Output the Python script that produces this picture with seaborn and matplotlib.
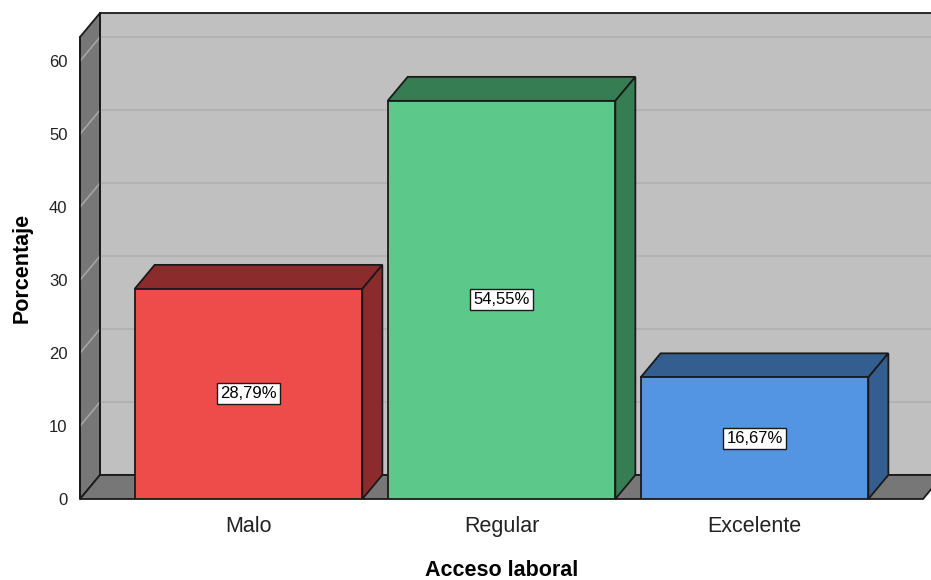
import matplotlib
matplotlib.use("Agg")
import matplotlib.pyplot as plt
from matplotlib.patches import Polygon
import seaborn as sns
import pandas as pd

# Data
categorias = ["Malo", "Regular", "Excelente"]
porcentajes = [28.79, 54.55, 16.67]
etiquetas = ["28,79%", "54,55%", "16,67%"]
yticks = [0, 10, 20, 30, 40, 50, 60]

# Colours (front face, shaded faces)
frente = ["#EE4B4B", "#5CC98B", "#5395E3"]
sombra = ["#8C2B2B", "#377D53", "#345D90"]

sns.set_theme(style="white")
plt.rcParams["font.family"] = ["Liberation Sans", "DejaVu Sans"]

W, H = 931, 580
fig = plt.figure(figsize=(W / 100, H / 100), dpi=100)
# front plane of the box, in pixels
px_l, px_r, px_top, px_bot = 80, 923, 37, 499
ax = fig.add_axes([px_l / W, (H - px_bot) / H, (px_r - px_l) / W, (px_bot - px_top) / H])

df = pd.DataFrame({"cat": categorias, "val": porcentajes})
sns.barplot(data=df, x="cat", y="val", hue="cat", palette=frente, width=0.9, saturation=1,
            edgecolor="#1A1A1A", linewidth=1.3, legend=False, ax=ax, zorder=2)

x0, x1 = -0.666, 2.666
ymax = 63.3
ax.set_xlim(x0, x1)
ax.set_ylim(0, ymax)

# depth offset in data units (~20 px right, ~24 px up)
dx = 20 / ((px_r - px_l) / (x1 - x0))
dy = 24 / ((px_bot - px_top) / ymax)

wall_back = "#C0C0C0"
wall_side = "#777777"
edge = "#1A1A1A"

# back wall
ax.add_patch(Polygon([(x0 + dx, dy), (x1 + dx, dy), (x1 + dx, ymax + dy), (x0 + dx, ymax + dy)],
                     closed=True, facecolor=wall_back, edgecolor=edge, lw=1.3, clip_on=False, zorder=0))
# left side wall
ax.add_patch(Polygon([(x0, 0), (x0, ymax), (x0 + dx, ymax + dy), (x0 + dx, dy)],
                     closed=True, facecolor=wall_side, edgecolor=edge, lw=1.3, clip_on=False, zorder=0.5))
# floor
ax.add_patch(Polygon([(x0, 0), (x1, 0), (x1 + dx, dy), (x0 + dx, dy)],
                     closed=True, facecolor=wall_side, edgecolor=edge, lw=1.3, clip_on=False, zorder=0.5))
# grid lines on the back wall and side wall
for v in yticks[1:]:
    ax.plot([x0 + dx, x1 + dx], [v + dy, v + dy], color="#B0B0B0", lw=1.2, clip_on=False, zorder=0.3)
    ax.plot([x0, x0 + dx], [v, v + dy], color="#A5A5A5", lw=1.2, clip_on=False, zorder=0.6)
# redraw the wall edges above the grid
ax.plot([x0 + dx, x0 + dx], [dy, ymax + dy], color=edge, lw=1.3, clip_on=False, zorder=0.7)
ax.plot([x0, x0], [0, ymax], color=edge, lw=1.3, clip_on=False, zorder=0.7)

bars = [p for p in ax.patches if p.get_zorder() == 2]
for i, p in enumerate(bars):
    x, w, h = p.get_x(), p.get_width(), p.get_height()
    top = Polygon([(x, h), (x + w, h), (x + w + dx, h + dy), (x + dx, h + dy)],
                  closed=True, facecolor=sombra[i], edgecolor=edge, lw=1.3, zorder=1.8, clip_on=False)
    side = Polygon([(x + w, 0), (x + w, h), (x + w + dx, h + dy), (x + w + dx, dy)],
                   closed=True, facecolor=sombra[i], edgecolor=edge, lw=1.3, zorder=1.8, clip_on=False)
    ax.add_patch(top)
    ax.add_patch(side)
    ax.text(x + w / 2, h / 2, etiquetas[i], ha="center", va="center", fontsize=12, color="black",
            zorder=5, bbox=dict(boxstyle="square,pad=0.18", facecolor="white", edgecolor=edge, lw=1.0))

for s in ax.spines.values():
    s.set_visible(False)
ax.set_yticks(yticks)
ax.set_yticklabels([str(t) for t in yticks], fontsize=12, color="#222222")
ax.tick_params(axis="y", length=0, pad=9)
ax.tick_params(axis="x", length=0, pad=12, labelsize=15.5, labelcolor="#222222")
ax.set_xlabel("Acceso laboral", fontsize=15.5, fontweight="bold", labelpad=17, color="black")
ax.set_ylabel("")
fig.text(22 / W, 1 - ((px_top + px_bot) / 2) / H, "Porcentaje", rotation=90, ha="center", va="center",
         fontsize=15.5, fontweight="bold", color="black")
ax.patch.set_visible(False)

fig.savefig("out.png", dpi=100, facecolor="white")
